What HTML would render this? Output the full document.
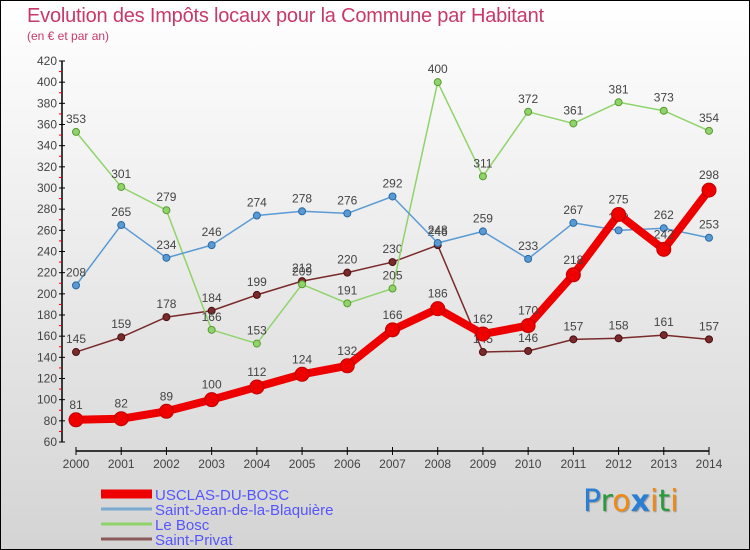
<!DOCTYPE html>
<html><head><meta charset="utf-8"><style>
body{margin:0;}
#c{position:relative;width:748px;height:548px;border:1px solid #000;background:linear-gradient(#fff,#d4d4d4);font-family:"Liberation Sans",sans-serif;overflow:hidden}
.t{position:absolute;left:26px;top:4px;font-size:20px;color:#c8386a;letter-spacing:-0.2px}
.s{position:absolute;left:26px;top:28px;font-size:12px;color:#c8386a}
</style></head><body>
<div id="c">
<div class="t">Evolution des Impôts locaux pour la Commune par Habitant</div>
<div class="s">(en € et par an)</div>
<svg id="svg" width="748" height="548" style="position:absolute;left:0;top:0"></svg>
<div style="position:absolute;left:582px;top:483px;font-size:30px;font-family:'DejaVu Sans',sans-serif;text-shadow:1px 1px 1px #999"><span style="color:#2a7fd4">P</span><span style="color:#2a9a3a">r</span><span style="color:#f08a10">o</span><span style="color:#2a7fd4;font-weight:bold">x</span><span style="color:#f08a10">i</span><span style="color:#2a9a3a">t</span><span style="color:#f08a10">i</span></div>
</div>
<script>
const years=[2000,2001,2002,2003,2004,2005,2006,2007,2008,2009,2010,2011,2012,2013,2014];
const usclas=[81,82,89,100,112,124,132,166,186,162,170,218,275,242,298];
const stjean=[208,265,234,246,274,278,276,292,248,259,233,267,260,262,253];
const lebosc=[353,301,279,166,153,209,191,205,400,311,372,361,381,373,354];
const stprivat=[145,159,178,184,199,212,220,230,246,145,146,157,158,161,157];
const yTicks=[60,80,100,120,140,160,180,200,220,240,260,280,300,320,340,360,380,400,420];
const NS="http://www.w3.org/2000/svg";
const svg=document.getElementById('svg');
const X=i=>75+i*(633/14);
const Y=v=>441-(v-60)*(381/360);
function mk(t,a,p){const e=document.createElementNS(NS,t);for(const k in a)e.setAttribute(k,a[k]);(p||svg).appendChild(e);return e;}
let ax=mk('line',{x1:61,y1:60,x2:61,y2:441,stroke:'#000','stroke-width':1.5});


let bx=mk('line',{x1:75,y1:450,x2:708,y2:450,stroke:'#000','stroke-width':1.5});


yTicks.forEach((v,i)=>{
 mk('line',{x1:58,y1:Y(v),x2:64,y2:Y(v),stroke:'#000'});
 if(i<yTicks.length-1) mk('line',{x1:58,y1:Y(v+10),x2:61,y2:Y(v+10),stroke:'#e00'});
 const t=mk('text',{x:56,y:Y(v)+4,'text-anchor':'end','font-size':12,fill:'#444'});t.textContent=v;
 
 
});
years.forEach((yr,i)=>{
 mk('line',{x1:X(i),y1:446,x2:X(i),y2:454,stroke:'#000'});
 const t=mk('text',{x:X(i),y:467,'text-anchor':'middle','font-size':12,fill:'#444'});t.textContent=yr;
 
 
});
function series(d,col,w,r,name,dark,off){
 const g=mk('g',{});
 
 
 mk('polyline',{points:d.map((v,i)=>X(i)+','+Y(v)).join(' '),fill:'none',stroke:col,'stroke-width':w,'stroke-linejoin':'round'},g);
 d.forEach((v,i)=>{
  const c=mk('circle',{cx:X(i),cy:Y(v),r:r,fill:col,stroke:dark,'stroke-width':1},g);
  
  
  const t=mk('text',{x:X(i),y:Y(v)-off,'text-anchor':'middle','font-size':12,fill:'#444'},g);t.textContent=v;
  
  
 });
}
series(stprivat,'#7a2a2a',1.5,3.5,'saint-privat-series','#4a1010',9);
series(lebosc,'#8fd46a',1.5,3.5,'le-bosc-series','#5a9a30',9);
series(stjean,'#5a9ad4',1.5,3.5,'saint-jean-series','#2a6aa4',9);
series(usclas,'#ee0000',8,7,'usclas-series','#c00000',11);
const leg=[['USCLAS-DU-BOSC','#ee0000',9],['Saint-Jean-de-la-Blaquière','#7aaad0',3],['Le Bosc','#8fd46a',3],['Saint-Privat','#8a5a5a',3]];
leg.forEach((l,i)=>{
 const y=493+i*15;
 const ln=mk('line',{x1:100,y1:y,x2:151,y2:y,stroke:l[1],'stroke-width':l[2]});
 
 
 const t=mk('text',{x:154,y:y+6,'font-size':15,fill:'#5555ff'});t.textContent=l[0];
 
 
});
</script>
</body></html>
